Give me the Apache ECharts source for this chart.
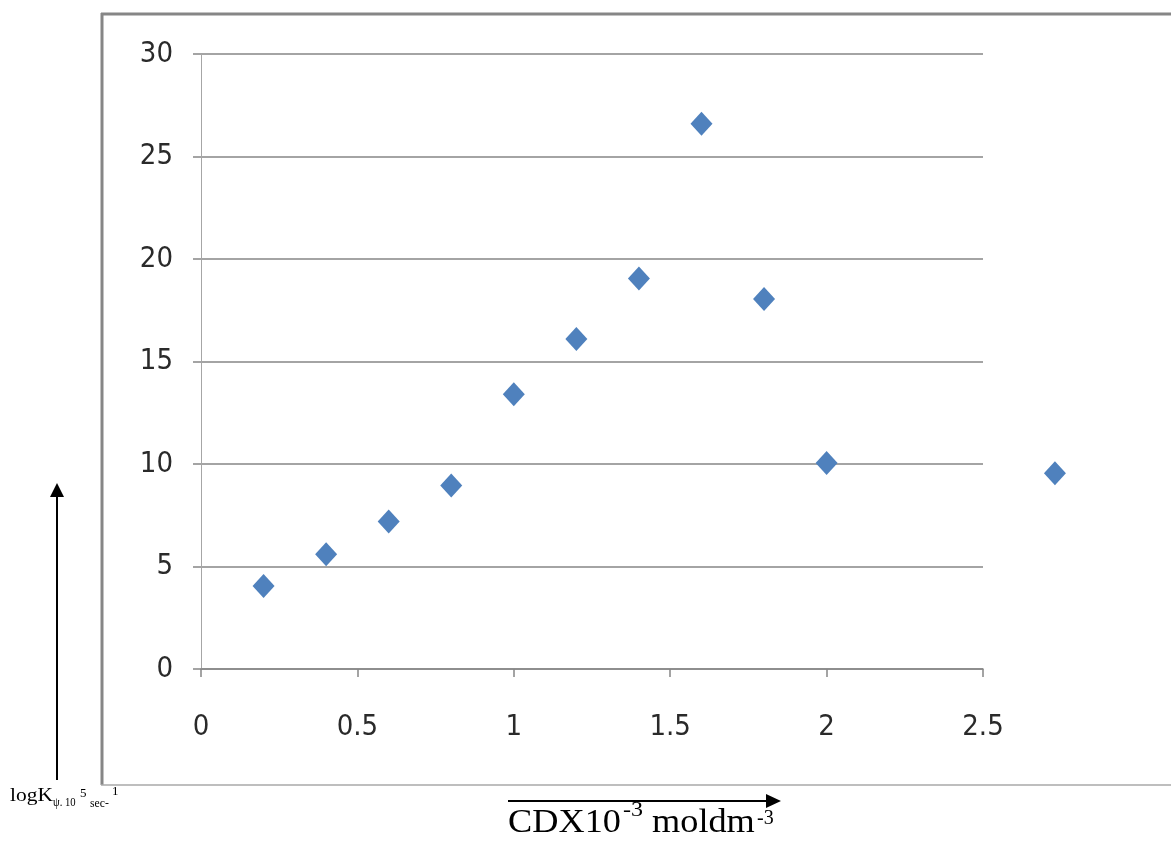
<!DOCTYPE html>
<html><head><meta charset="utf-8">
<script src="https://cdn.jsdelivr.net/npm/echarts@6/dist/echarts.min.js"></script>
<style>html,body{margin:0;padding:0;background:#fff}#c{width:1171px;height:843px}</style>
</head><body><div id="c"></div>
<script>
const xValues = [0.2, 0.4, 0.6, 0.8, 1.0, 1.2, 1.4, 1.6, 1.8, 2.0, 2.73];
const yValues = [4.05, 5.6, 7.2, 8.95, 13.4, 16.1, 19.05, 26.6, 18.05, 10.05, 9.55];
const xTicks = [0, 0.5, 1, 1.5, 2, 2.5];
const yTicks = [0, 5, 10, 15, 20, 25, 30];

const chart = echarts.init(document.getElementById('c'), null, {renderer: 'canvas'});
const fontFam = '"Liberation Sans Narrow", "DejaVu Sans Condensed", Lato, sans-serif';
const serif = '"Liberation Serif", "DejaVu Serif", serif';
function t(txt, x, y, size, sx) {
  return {type: 'text', x: x, y: y, scaleX: sx || 1,
    style: {text: txt, fontFamily: serif, fontSize: size, fill: '#000', align: 'left', verticalAlign: 'middle'}};
}
chart.setOption({
  animation: false,
  grid: {left: 201, top: 54, right: 188, bottom: 174, containLabel: false},
  xAxis: {
    type: 'value', min: 0, max: 2.5, interval: 0.5,
    axisLine: {show: true, lineStyle: {color: '#868686', width: 1.5}},
    axisTick: {show: true, length: 8, lineStyle: {color: '#868686', width: 1.5}},
    splitLine: {show: false},
    axisLabel: {margin: 44, fontSize: 29, color: '#2a2a2a', fontFamily: fontFam,
      formatter: v => xTicks.includes(+v.toFixed(2)) ? String(+v.toFixed(2)) : ''}
  },
  yAxis: {
    type: 'value', min: 0, max: 30, interval: 5,
    axisLine: {show: true, lineStyle: {color: '#a6a6a6', width: 1}},
    axisTick: {show: true, length: 8, lineStyle: {color: '#868686', width: 1.5}},
    splitLine: {show: true, lineStyle: {color: '#868686', width: 1.5}},
    axisLabel: {margin: 28, fontSize: 29, color: '#2a2a2a', fontFamily: fontFam,
      formatter: v => yTicks.includes(v) ? String(v) : ''}
  },
  series: [{
    type: 'scatter',
    data: xValues.map((x, i) => [x, yValues[i]]),
    symbol: 'diamond', symbolSize: [22, 24],
    clip: false,
    itemStyle: {color: '#4f81bd', opacity: 1}
  }],
  graphic: [
    {type: 'line', shape: {x1: 101, y1: 14, x2: 1171, y2: 14}, style: {stroke: '#868686', lineWidth: 3}},
    {type: 'line', shape: {x1: 102, y1: 13, x2: 102, y2: 785}, style: {stroke: '#868686', lineWidth: 3}},
    {type: 'line', shape: {x1: 101, y1: 785, x2: 1171, y2: 785}, style: {stroke: '#a8a8a8', lineWidth: 1.5}},
    {type: 'line', shape: {x1: 57, y1: 780, x2: 57, y2: 495}, style: {stroke: '#000', lineWidth: 2}},
    {type: 'polygon', shape: {points: [[50, 497], [64, 497], [57, 483]]}, style: {fill: '#000'}},
    {type: 'line', shape: {x1: 508, y1: 801, x2: 768, y2: 801}, style: {stroke: '#000', lineWidth: 2}},
    {type: 'polygon', shape: {points: [[766, 794], [766, 808], [781, 801]]}, style: {fill: '#000'}},
    t('logK', 10, 796.5, 19, 1.13),
    t('ψ. 10', 53, 802.5, 13, 0.82),
    t('5', 80, 793.5, 13),
    t('sec-', 90, 803.5, 13, 0.9),
    t('1', 112, 791.5, 13),
    t('CDX10', 508, 823.8, 33, 1.1),
    t('-3', 623, 811.2, 20, 1.2),
    t('moldm', 652, 823.8, 33, 1.1),
    t('-3', 757, 819, 20)
  ]
});
</script></body></html>
